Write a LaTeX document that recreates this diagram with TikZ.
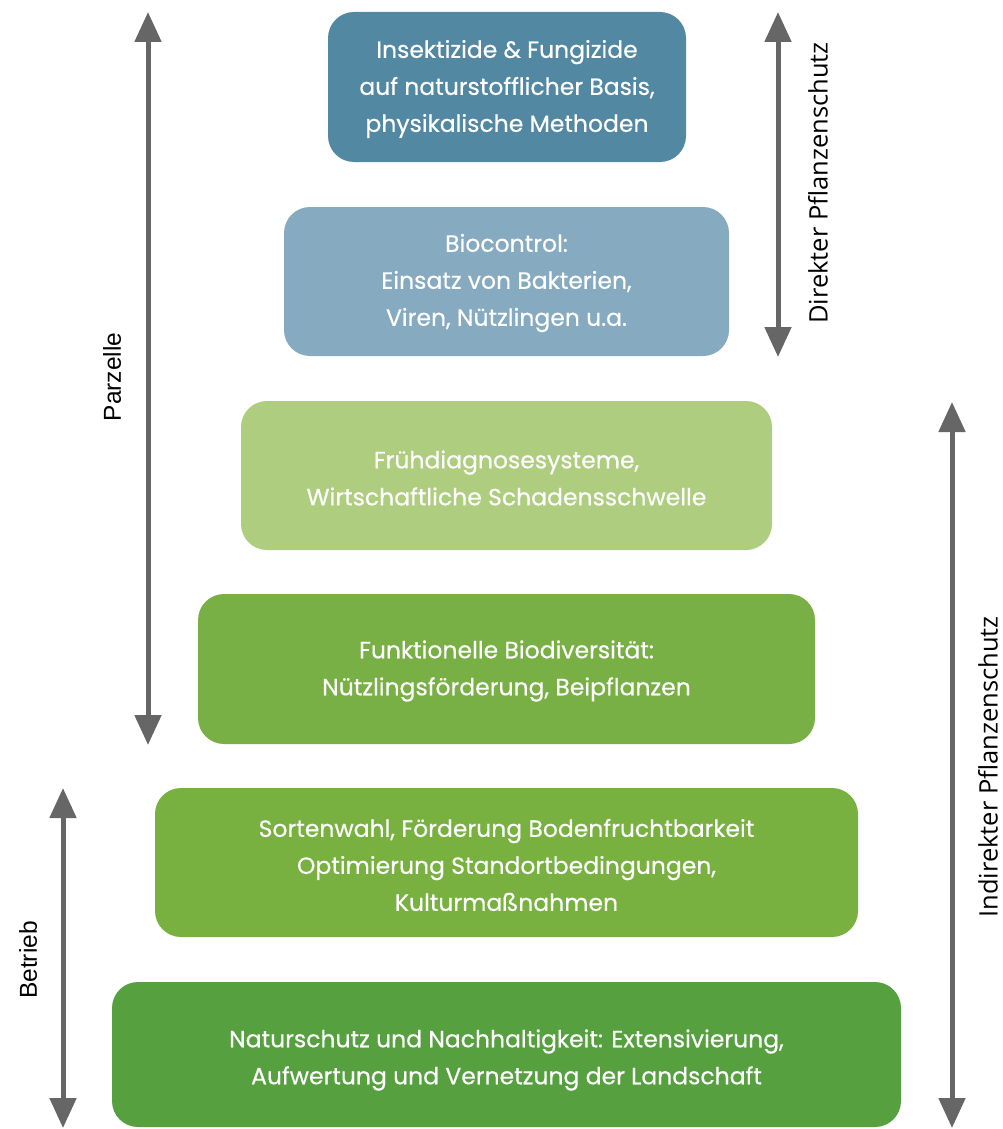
\documentclass[tikz,border=0pt]{standalone}
\usepackage{fontspec}
\setmainfont{Poppins}
\newfontfamily\tierfont{Poppins}[FakeBold=0.4]
\newfontfamily\labelfont{Open Sans}
\newfontfamily\helvfont{Liberation Sans}
\usetikzlibrary{arrows.meta}
\definecolor{cA}{HTML}{5288A2}
\definecolor{cB}{HTML}{86AABF}
\definecolor{cC}{HTML}{AFCD7E}
\definecolor{cD}{HTML}{79B045}
\definecolor{cE}{HTML}{78B140}
\definecolor{cF}{HTML}{56A040}
\definecolor{arrgray}{HTML}{666666}
\tikzset{
  tier/.style={text=white, font=\tierfont\fontsize{23.5}{37}\selectfont, align=center},
  tierbox/.style={rounded corners=26pt},
  scalearrow/.style={draw=arrgray, line width=5pt, {Triangle[width=26pt,length=30pt]}-{Triangle[width=26pt,length=30pt]}},
  sidelabel/.style={font=\labelfont\fontsize{25.5}{30}\selectfont, rotate=90, text=black},
  sidelabelb/.style={font=\helvfont\fontsize{24.5}{30}\selectfont, rotate=90, text=black}
}
\begin{document}
\begin{tikzpicture}[x=1pt,y=-1pt]
\useasboundingbox (0,0) rectangle (1003,1129);
% tiers
\fill[cA, tierbox] (328,12) rectangle (686,162);
\node[tier] (b1) at (507,89) {Insektizide \& Fungizide\\auf naturstofflicher Basis,\\physikalische Methoden};
\fill[cB, tierbox] (284,207) rectangle (729,356);
\node[tier] (b2) at (506.5,283) {Biocontrol:\\Einsatz von Bakterien,\\Viren, Nützlingen u.a.};
\fill[cC, tierbox] (241,401) rectangle (772,550);
\node[tier] (b3) at (506.5,478) {Frühdiagnosesysteme,\\Wirtschaftliche Schadensschwelle};
\fill[cD, tierbox] (198,594) rectangle (815,744);
\node[tier] (b4) at (506.5,671) {Funktionelle Biodiversität:\\Nützlingsförderung, Beipflanzen};
\fill[cE, tierbox] (155,788) rectangle (858,937);
\node[tier] (b5) at (506.5,865) {Sortenwahl, Förderung Bodenfruchtbarkeit\\Optimierung Standortbedingungen,\\Kulturmaßnahmen};
\fill[cF, tierbox] (112,982) rectangle (901,1127);
\node[tier] (b6) at (506.5,1060) {Naturschutz und Nachhaltigkeit: Extensivierung,\\Aufwertung und Vernetzung der Landschaft};
% scale arrows
\coordinate (p1) at (148,12); \coordinate (p2) at (148,745);
\draw[scalearrow] (p1) -- (p2);
\node[sidelabelb] (lp) at (112,377) {Parzelle};
\coordinate (d1) at (778,12); \coordinate (d2) at (778,357);
\draw[scalearrow] (d1) -- (d2);
\node[sidelabel] (ld) at (818,183) {Direkter Pflanzenschutz};
\coordinate (i1) at (952,402); \coordinate (i2) at (952,1128);
\draw[scalearrow] (i1) -- (i2);
\node[sidelabel] (li) at (988,767) {Indirekter Pflanzenschutz};
\coordinate (t1) at (63,788); \coordinate (t2) at (63,1128);
\draw[scalearrow] (t1) -- (t2);
\node[sidelabelb] (lt) at (28,960) {Betrieb};
\end{tikzpicture}
\end{document}
